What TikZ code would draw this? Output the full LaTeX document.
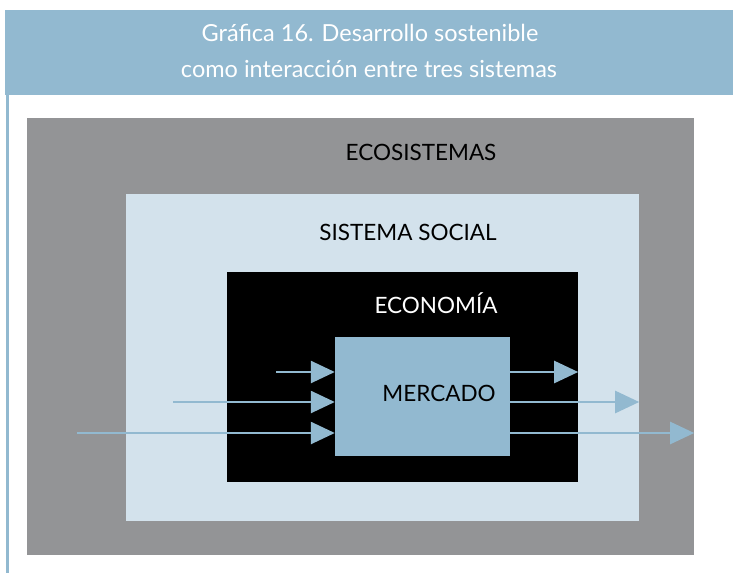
\documentclass[tikz,border=0pt]{standalone}
\usepackage{fontspec}
\setmainfont{Lato}
\usetikzlibrary{arrows.meta,positioning}
\definecolor{azulgraf}{HTML}{92B9D0}
\definecolor{azulclaro}{HTML}{D3E2EC}
\definecolor{grisgraf}{HTML}{939496}
\begin{document}
\begin{tikzpicture}[x=1pt,y=-1pt,
	caja/.style={rectangle,inner sep=0pt,draw=none},
	etiqueta/.style={anchor=base,inner sep=0pt,font=\fontsize{22.5}{26}\selectfont},
	titulo/.style={anchor=base,inner sep=0pt,text=white,font=\fontsize{23.5}{28}\selectfont},
	flecha/.style={draw=azulgraf,line width=2.5pt,-{Triangle[length=24pt,width=22pt]}}]

		\useasboundingbox (0,0) rectangle (733,573);

		% cabecera
		\node[caja,fill=azulgraf,minimum width=728,minimum height=85] (cabecera) at (369,52.5) {};
		\node[titulo] (titulo1) at (370,41) {Gráfica 16. Desarrollo sostenible};
		\node[titulo] (titulo2) at (369,77) {como interacción entre tres sistemas};
		\fill[azulgraf] (5.5,95) rectangle (8.5,573);

		% sistemas
		\node[caja,fill=grisgraf,minimum width=667,minimum height=437] (eco) at (360.5,336.5) {};
		\node[caja,fill=azulclaro,minimum width=513,minimum height=327] (social) at (382.5,357.5) {};
		\node[caja,fill=black,minimum width=351,minimum height=210] (economia) at (402.5,377) {};
		\node[caja,fill=azulgraf,minimum width=175,minimum height=119] (mercado) at (422.5,396.5) {};

		\node[etiqueta] (ecoTxt) at (421,160) {ECOSISTEMAS};
		\node[etiqueta] (socialTxt) at (408,240) {SISTEMA SOCIAL};
		\node[etiqueta,text=white] (economiaTxt) at (436,313) {ECONOMÍA};
		\node[etiqueta] (mercadoTxt) at (439,401) {MERCADO};

		% entradas
		\coordinate (in1) at (276,372);
		\coordinate (in2) at (173,402);
		\coordinate (in3) at (77,433);

		\draw[flecha] (in1) -- (mercado.west |- in1);
		\draw[flecha] (in2) -- (mercado.west |- in2);
		\draw[flecha] (in3) -- (mercado.west |- in3);

		% salidas
		\draw[flecha] (mercado.east |- in1) -- (economia.east |- in1);
		\draw[flecha] (mercado.east |- in2) -- (social.east |- in2);
		\draw[flecha] (mercado.east |- in3) -- (eco.east |- in3);
\end{tikzpicture}
\end{document}
